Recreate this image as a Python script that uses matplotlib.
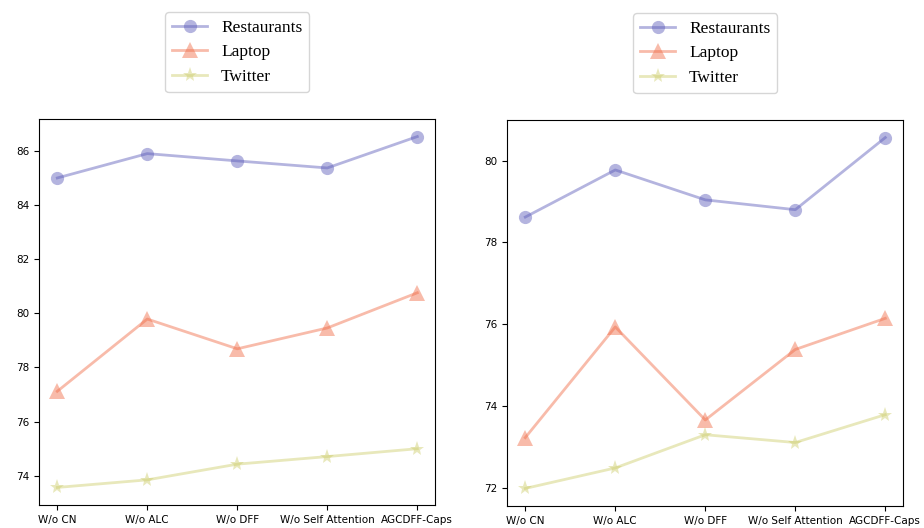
import matplotlib
matplotlib.use("Agg")
import matplotlib.pyplot as plt

categories = ["W/o CN", "W/o ALC", "W/o DFF", "W/o Self Attention", "AGCDFF-Caps"]
series_names = ["Restaurants", "Laptop", "Twitter"]

# Left panel
left_restaurants = [85.00, 85.90, 85.63, 85.37, 86.53]
left_laptop = [77.12, 79.79, 78.69, 79.46, 80.76]
left_twitter = [73.57, 73.85, 74.43, 74.71, 75.00]

# Right panel
right_restaurants = [78.62, 79.77, 79.04, 78.80, 80.56]
right_laptop = [73.24, 75.94, 73.67, 75.39, 76.15]
right_twitter = [72.00, 72.50, 73.31, 73.12, 73.80]

colors = ["#5a5ab8", "#f06a44", "#cccc6a"]
markers = ["o", "^", "*"]
marker_sizes = [9.5, 11, 11]

fig = plt.figure(figsize=(9.24, 5.28), dpi=100)
ax1 = fig.add_axes([0.0425, 0.0436, 0.4286, 0.731])
ax2 = fig.add_axes([0.549, 0.0417, 0.4286, 0.731])

panels = [
    (ax1, [left_restaurants, left_laptop, left_twitter]),
    (ax2, [right_restaurants, right_laptop, right_twitter]),
]

for ax, data in panels:
    x = list(range(len(categories)))
    for name, vals, c, m, ms in zip(series_names, data, colors, markers, marker_sizes):
        ax.plot(x, vals, color=c, marker=m, markersize=ms, markeredgewidth=0,
                linewidth=2, alpha=0.45, label=name)
    ax.set_xticks(x)
    ax.set_xticklabels(categories)
    ax.tick_params(axis="both", labelsize=7.5)
    ax.legend(loc="lower center", bbox_to_anchor=(0.5, 1.047),
              prop={"family": "Liberation Serif", "size": 12.5})

fig.savefig("out.png", dpi=100)
